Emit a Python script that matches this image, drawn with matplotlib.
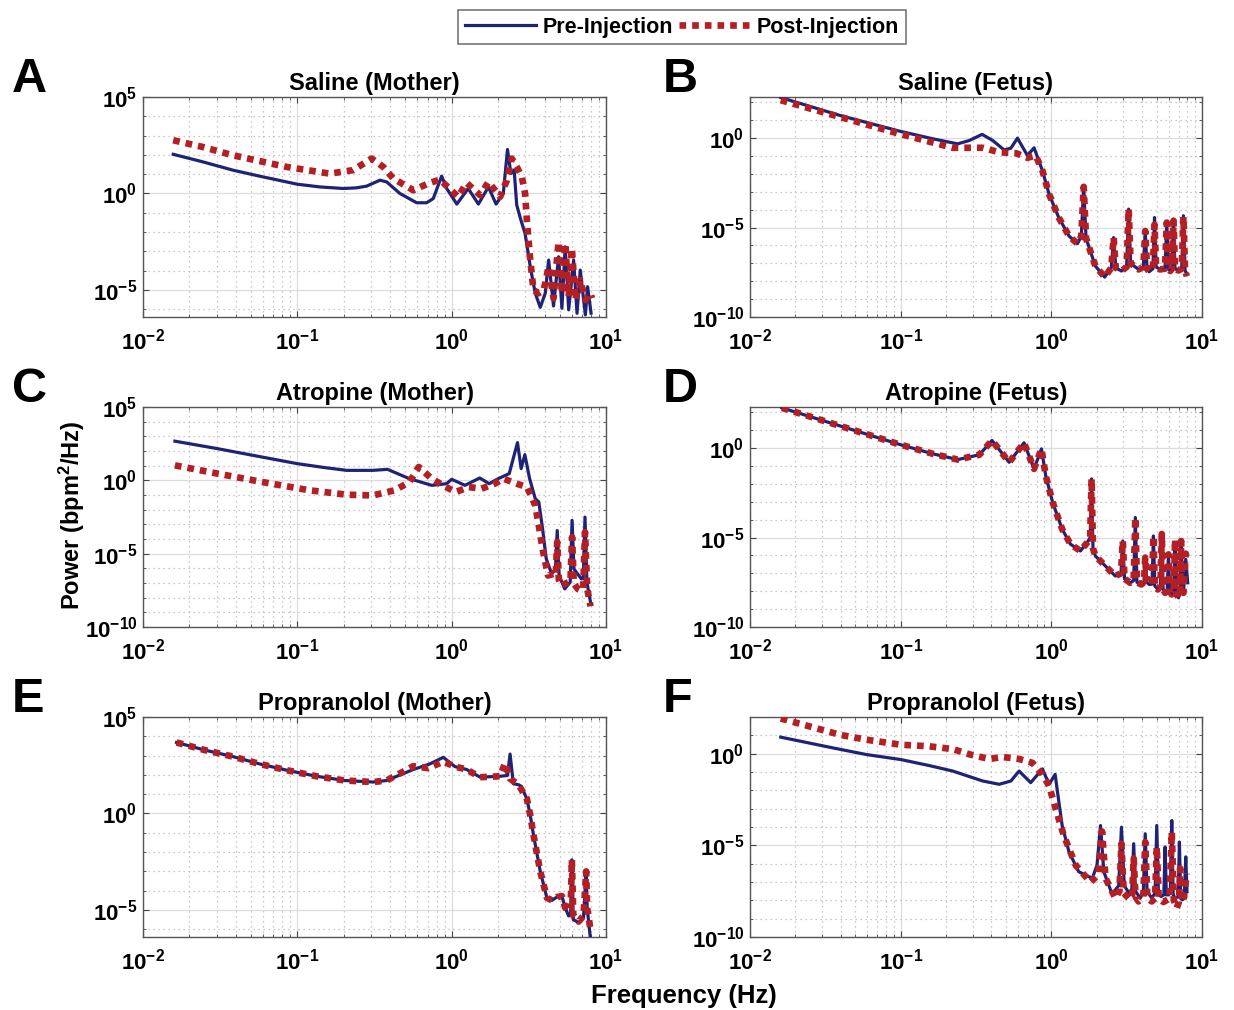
import numpy as np
import matplotlib
matplotlib.use('Agg')
import matplotlib.pyplot as plt
from matplotlib.ticker import FixedLocator, LogLocator, FuncFormatter, NullFormatter

plt.rcParams['font.family'] = ['Liberation Sans', 'DejaVu Sans']
plt.rcParams['font.weight'] = 'bold'
plt.rcParams['mathtext.fontset'] = 'custom'
plt.rcParams['mathtext.rm'] = 'Liberation Sans:bold'
plt.rcParams['mathtext.it'] = 'Liberation Sans:bold'
plt.rcParams['mathtext.bf'] = 'Liberation Sans:bold'
plt.rcParams['mathtext.sf'] = 'Liberation Sans:bold'

## Spectra: frequency (Hz) and log10 power (bpm^2/Hz)
# Saline, mother
sal_m_pre_f = [0.0157, 0.0244, 0.0382, 0.0568, 0.100, 0.140, 0.198, 0.240, 0.281, 0.343,
               0.379, 0.462, 0.593, 0.689, 0.760, 0.861, 0.929, 1.08, 1.28, 1.49,
               1.73, 1.94, 2.16, 2.30, 2.42, 2.54, 2.64, 2.81, 2.99, 3.23,
               3.48, 3.75, 4.04, 4.25, 4.57, 4.93, 5.18, 5.44, 5.73, 6.17,
               6.49, 6.81, 7.35, 7.60, 8.00]
sal_m_pre_p = [2.03, 1.64, 1.21, 0.90, 0.48, 0.34, 0.26, 0.29, 0.38, 0.69,
               0.60, 0.00, -0.48, -0.48, -0.26, 0.90, 0.26, -0.55, 0.26, -0.55,
               0.34, -0.55, 0.00, 2.28, 1.03, 1.21, -0.60, -1.38, -2.07, -3.79,
               -5.17, -5.90, -5.17, -3.45, -5.83, -3.28, -5.95, -2.76, -6.03, -3.45,
               -6.21, -3.97, -6.29, -4.83, -6.20]
sal_m_post_f = [0.0157, 0.0244, 0.0382, 0.0849, 0.162, 0.230, 0.303, 0.360, 0.418, 0.564,
                0.705, 0.840, 1.10, 1.25, 1.53, 1.73, 2.06, 2.28, 2.45, 2.64,
                2.85, 2.99, 3.07, 3.23, 3.39, 3.66, 3.95, 4.25, 4.57, 4.93,
                5.18, 5.44, 5.73, 6.01, 6.33, 6.81, 7.35, 7.91, 8.11]
sal_m_post_p = [2.76, 2.41, 1.98, 1.38, 1.03, 1.21, 1.81, 1.38, 0.78, 0.17,
                0.52, 0.72, -0.17, 0.55, -0.09, 0.60, -0.17, 0.69, 1.81, 1.38,
                0.86, 0.00, -1.38, -3.45, -5.00, -5.17, -5.00, -3.79, -5.43, -2.50,
                -5.17, -2.59, -5.34, -2.84, -5.52, -4.48, -5.52, -5.17, -5.43]

# Saline, fetus
sal_f_pre_f = [0.0160, 0.0395, 0.0984, 0.164, 0.239, 0.286, 0.347, 0.408, 0.486, 0.539,
               0.596, 0.694, 0.768, 0.873, 0.966, 1.12, 1.31, 1.49, 1.58, 1.64,
               1.70, 1.96, 2.26, 2.50, 2.59, 2.68, 2.92, 3.16, 3.26, 3.36,
               3.79, 4.08, 4.20, 4.32, 4.46, 4.72, 4.84, 4.96, 5.27, 5.68,
               5.84, 5.98, 6.15, 6.32, 6.47, 6.62, 6.98, 7.33, 7.53, 7.72, 7.93]
sal_f_pre_p = [2.27, 1.27, 0.39, -0.04, -0.32, -0.13, 0.21, -0.13, -0.66, -0.56,
               0.00, -0.97, -0.54, -1.82, -3.13, -4.44, -5.47, -5.90, -5.50, -2.72,
               -5.60, -7.15, -7.77, -7.25, -5.56, -7.25, -7.43, -7.20, -3.97, -7.00,
               -7.34, -7.20, -5.19, -7.30, -7.47, -7.30, -4.44, -7.20, -7.34, -7.30,
               -4.72, -7.30, -7.43, -7.30, -4.53, -7.30, -7.40, -7.30, -4.34, -7.40, -7.62]
sal_f_post_f = [0.0160, 0.0984, 0.222, 0.350, 0.451, 0.582, 0.694, 0.787, 0.873, 0.966,
                1.12, 1.31, 1.49, 1.58, 1.64, 1.70, 1.96, 2.26, 2.50, 2.59,
                2.68, 2.92, 3.16, 3.26, 3.36, 3.79, 4.08, 4.20, 4.32, 4.46,
                4.72, 4.84, 4.96, 5.27, 5.68, 5.84, 5.98, 6.15, 6.32, 6.47,
                6.62, 6.98, 7.33, 7.53, 7.72, 7.93]
sal_f_post_p = [2.12, 0.24, -0.54, -0.54, -0.79, -0.84, -1.10, -0.97, -1.82, -3.13,
                -4.44, -5.47, -5.90, -5.50, -2.72, -5.60, -7.15, -7.77, -7.25, -5.56,
                -7.25, -7.43, -7.20, -3.97, -7.00, -7.34, -7.20, -5.19, -7.30, -7.47,
                -7.30, -4.84, -7.20, -7.34, -7.30, -4.72, -7.30, -7.43, -7.30, -4.62,
                -7.30, -7.40, -7.30, -4.40, -7.40, -7.72]

# Atropine, mother
atr_m_pre_f = [0.0161, 0.0304, 0.0589, 0.0996, 0.150, 0.209, 0.308, 0.384, 0.533, 0.743,
               0.927, 1.00, 1.22, 1.52, 1.75, 2.00, 2.36, 2.67, 2.82, 2.98,
               3.20, 3.48, 3.67, 3.88, 4.10, 4.45, 4.70, 4.83, 4.97, 5.40,
               5.86, 6.03, 6.20, 6.92, 7.12, 7.31, 7.52, 7.94]
atr_m_pre_p = [2.67, 2.16, 1.59, 1.14, 0.87, 0.68, 0.68, 0.75, 0.11, -0.34,
               -0.23, 0.07, -0.34, 0.16, -0.23, 0.11, 0.46, 2.57, 0.80, 1.75,
               0.11, -1.25, -1.48, -3.30, -5.35, -6.38, -6.04, -3.42, -6.49, -7.40,
               -6.95, -2.73, -6.04, -6.72, -6.70, -2.51, -6.95, -8.31]
atr_m_post_f = [0.0161, 0.0304, 0.0589, 0.120, 0.209, 0.308, 0.428, 0.533, 0.612, 0.743,
                0.877, 1.06, 1.29, 1.56, 1.90, 2.17, 2.64, 3.08, 3.48, 3.67,
                3.88, 4.21, 4.57, 4.72, 4.83, 4.95, 5.11, 5.70, 5.88, 6.03,
                6.18, 6.55, 6.92, 7.12, 7.31, 7.56, 7.94]
atr_m_post_p = [1.02, 0.46, -0.11, -0.68, -0.98, -1.03, -0.68, -0.11, 0.91, 0.11,
                -0.34, -0.80, -0.46, -0.57, -0.23, 0.11, -0.23, -0.46, -1.71, -3.08,
                -4.67, -6.49, -6.38, -6.50, -4.21, -6.80, -7.18, -6.95, -6.90, -3.87,
                -7.00, -7.40, -7.52, -7.40, -3.53, -7.40, -8.59]

# Atropine, fetus
atr_f_pre_f = [0.0163, 0.100, 0.164, 0.239, 0.333, 0.404, 0.525, 0.659, 0.768, 0.860,
               0.918, 1.02, 1.18, 1.34, 1.56, 1.73, 1.81, 1.85, 1.89, 1.96,
               2.17, 2.66, 2.90, 2.98, 3.06, 3.34, 3.52, 3.61, 3.70, 3.95,
               4.12, 4.20, 4.30, 4.46, 4.66, 4.76, 4.86, 5.09, 5.30, 5.41,
               5.52, 5.69, 5.88, 5.99, 6.10, 6.30, 6.50, 6.63, 6.76, 6.98,
               7.15, 7.27, 7.40, 7.53, 7.80, 8.04]
atr_f_pre_p = [2.25, 0.19, -0.32, -0.64, -0.37, 0.43, -0.79, 0.30, -1.16, -0.04,
               -1.54, -3.03, -4.53, -5.37, -5.75, -5.28, -5.00, -1.72, -5.60, -6.03,
               -6.40, -7.15, -7.00, -5.19, -7.30, -7.53, -7.40, -3.88, -7.50, -7.62,
               -7.50, -6.12, -7.50, -7.62, -7.60, -4.91, -7.70, -7.90, -7.70, -4.72,
               -7.90, -8.09, -7.90, -5.94, -8.00, -8.18, -8.00, -5.28, -8.10, -8.37,
               -8.10, -5.19, -8.00, -8.09, -6.22, -7.53]
atr_f_post_f = list(atr_f_pre_f)
atr_f_post_p = [2.25, 0.19, -0.32, -0.64, -0.37, 0.43, -0.79, 0.30, -1.16, -0.04,
                -1.54, -3.03, -4.53, -5.37, -5.75, -5.28, -5.00, -1.72, -5.60, -6.03,
                -6.40, -7.15, -7.00, -5.19, -7.30, -7.53, -7.40, -3.88, -7.50, -7.62,
                -7.50, -6.12, -7.50, -7.62, -7.60, -4.91, -7.70, -7.90, -7.70, -4.80,
                -7.90, -8.09, -7.90, -5.94, -8.00, -8.18, -8.00, -5.10, -8.10, -8.37,
                -8.10, -5.19, -8.00, -8.09, -5.90, -6.40]

# Propranolol, mother
pro_m_pre_f = [0.0165, 0.0250, 0.0382, 0.0568, 0.0869, 0.133, 0.203, 0.310, 0.379, 0.564,
               0.723, 0.883, 1.05, 1.25, 1.53, 2.06, 2.30, 2.39, 2.51, 2.71,
               2.81, 3.07, 3.23, 3.39, 3.75, 4.14, 4.46, 4.81, 5.18, 5.44,
               5.73, 5.90, 6.01, 6.14, 6.64, 7.15, 7.44, 7.55, 7.91]
pro_m_pre_p = [3.68, 3.29, 2.95, 2.57, 2.23, 1.93, 1.71, 1.63, 1.71, 2.28,
               2.57, 2.91, 2.43, 2.28, 1.88, 1.93, 1.97, 3.08, 1.54, 1.49,
               1.42, 0.77, -0.09, -1.11, -3.00, -4.37, -4.50, -4.33, -4.28, -4.88,
               -5.31, -5.20, -2.40, -5.50, -5.65, -5.40, -3.03, -4.88, -6.42]
pro_m_post_f = [0.0165, 0.0250, 0.0382, 0.0568, 0.0869, 0.133, 0.203, 0.310, 0.379, 0.564,
                0.705, 0.883, 1.05, 1.25, 1.53, 2.06, 2.22, 2.39, 2.71, 3.07,
                3.23, 3.39, 3.75, 4.14, 4.46, 4.81, 5.18, 5.44, 5.73, 5.90,
                6.01, 6.14, 6.64, 7.15, 7.44, 7.55, 7.91]
pro_m_post_p = [3.68, 3.29, 2.95, 2.57, 2.23, 1.93, 1.71, 1.63, 1.71, 2.45,
                2.35, 2.69, 2.43, 2.28, 1.88, 1.93, 2.62, 1.80, 1.49, 0.77,
                -0.09, -1.11, -3.00, -4.37, -4.50, -4.33, -4.28, -4.88, -5.10, -5.00,
                -2.40, -5.30, -5.60, -5.30, -3.00, -4.90, -5.95]

# Propranolol, fetus
pro_f_pre_f = [0.0160, 0.0357, 0.0594, 0.100, 0.155, 0.222, 0.350, 0.451, 0.539, 0.611,
               0.730, 0.873, 0.966, 1.06, 1.10, 1.18, 1.31, 1.52, 1.87, 2.01,
               2.12, 2.23, 2.53, 2.80, 2.92, 3.05, 3.28, 3.42, 3.52, 3.62,
               3.89, 4.08, 4.20, 4.32, 4.64, 4.88, 5.01, 5.14, 5.36, 5.58,
               5.69, 5.80, 5.99, 6.16, 6.30, 6.44, 6.63, 6.95, 7.08, 7.22,
               7.41, 7.62, 7.80, 7.95]
pro_f_pre_p = [0.90, 0.31, -0.05, -0.32, -0.65, -0.95, -1.49, -1.67, -1.49, -0.95,
               -1.58, -0.83, -1.67, -1.13, -2.12, -3.92, -5.36, -6.44, -6.80, -6.08,
               -3.92, -6.44, -7.66, -7.20, -4.01, -7.20, -7.61, -7.40, -4.91, -7.50,
               -7.88, -7.50, -4.37, -7.50, -7.88, -7.60, -3.92, -7.70, -7.79, -7.70,
               -5.09, -7.70, -7.70, -7.60, -3.65, -7.70, -7.88, -7.80, -4.82, -7.90,
               -7.97, -7.90, -5.63, -7.52]
pro_f_post_f = [0.0160, 0.0395, 0.0594, 0.100, 0.155, 0.222, 0.290, 0.387, 0.474, 0.611,
                0.748, 0.873, 0.966, 1.07, 1.21, 1.45, 1.82, 2.05, 2.17, 2.29,
                2.66, 2.83, 2.92, 3.02, 3.34, 3.44, 3.52, 3.62, 3.79, 4.08,
                4.20, 4.34, 4.64, 4.88, 5.01, 5.16, 5.55, 6.10, 6.30, 6.50,
                6.80, 7.02, 7.16, 7.32, 7.53, 7.93]
pro_f_post_p = [1.92, 1.03, 0.76, 0.49, 0.40, 0.25, -0.05, -0.29, -0.18, -0.29,
                -0.50, -1.13, -1.76, -3.02, -4.46, -6.08, -7.01, -6.60, -4.24, -6.80,
                -7.88, -7.50, -4.91, -7.60, -7.97, -7.70, -5.72, -7.80, -8.06, -7.80,
                -4.82, -7.90, -8.06, -7.90, -5.09, -7.90, -8.09, -7.90, -4.28, -8.00,
                -8.42, -8.10, -6.26, -8.00, -8.06, -6.53]

titles = ['Saline (Mother)', 'Saline (Fetus)', 'Atropine (Mother)',
          'Atropine (Fetus)', 'Propranolol (Mother)', 'Propranolol (Fetus)']
letters = ['A', 'B', 'C', 'D', 'E', 'F']

pre_color = '#1f2375'
post_color = '#b31f24'

# panel layout in pixels: (left, top, width, height), ylim exponents, major y ticks
W, H = 1234, 1010
panels = [
    (sal_m_pre_f, sal_m_pre_p, sal_m_post_f, sal_m_post_p, (143, 97, 463, 220), (-6.4, 5), [-5, 0, 5]),
    (sal_f_pre_f, sal_f_pre_p, sal_f_post_f, sal_f_post_p, (750, 97, 452, 220), (-10, 2.3), [-10, -5, 0]),
    (atr_m_pre_f, atr_m_pre_p, atr_m_post_f, atr_m_post_p, (143, 407, 463, 220), (-10, 5), [-10, -5, 0, 5]),
    (atr_f_pre_f, atr_f_pre_p, atr_f_post_f, atr_f_post_p, (750, 407, 452, 220), (-10, 2.3), [-10, -5, 0]),
    (pro_m_pre_f, pro_m_pre_p, pro_m_post_f, pro_m_post_p, (143, 717, 463, 220), (-6.4, 5), [-5, 0, 5]),
    (pro_f_pre_f, pro_f_pre_p, pro_f_post_f, pro_f_post_p, (750, 717, 452, 220), (-10, 2.0), [-10, -5, 0]),
]

sci = FuncFormatter(lambda v, pos: r'$10^{%d}$' % int(round(np.log10(v))))

fig = plt.figure(figsize=(W / 100, H / 100), dpi=100)

for i, (f1, p1, f2, p2, box, ylim, yt) in enumerate(panels):
    l, t, w, h = box
    ax = fig.add_axes([l / W, 1 - (t + h) / H, w / W, h / H])
    ax.set_xscale('log')
    ax.set_yscale('log')
    pre, = ax.plot(f1, 10.0 ** np.array(p1), color=pre_color, lw=2.3, zorder=3)
    post, = ax.plot(f2, 10.0 ** np.array(p2), color=post_color, lw=4.8,
                    ls=(0, (1, 0.9)), dash_capstyle='butt', zorder=4)
    ax.set_xlim(1e-2, 1e1)
    ax.set_ylim(10.0 ** ylim[0], 10.0 ** ylim[1])

    ax.xaxis.set_major_locator(FixedLocator([1e-2, 1e-1, 1e0, 1e1]))
    ax.xaxis.set_minor_locator(LogLocator(base=10, subs=np.arange(2, 10), numticks=50))
    ax.yaxis.set_major_locator(FixedLocator([10.0 ** k for k in yt]))
    ax.yaxis.set_minor_locator(LogLocator(base=10, subs=(1.0,), numticks=50))
    ax.xaxis.set_major_formatter(sci)
    ax.yaxis.set_major_formatter(sci)
    ax.xaxis.set_minor_formatter(NullFormatter())
    ax.yaxis.set_minor_formatter(NullFormatter())

    ax.grid(True, which='major', color='#dcdcdc', lw=0.9)
    ax.grid(True, which='minor', color='#b8b8b8', lw=0.9, ls=(0, (1, 3)))
    ax.set_axisbelow(True)
    ax.tick_params(which='both', direction='in', top=True, right=True, color='#444444')
    ax.tick_params(which='major', length=4, labelsize=16, pad=4)
    ax.tick_params(which='minor', length=2.5)
    ax.tick_params(axis='x', which='major', pad=8)
    for s in ax.spines.values():
        s.set_color('#555555')
        s.set_linewidth(1.0)

    ax.set_title(titles[i], fontsize=17, fontweight='bold', pad=5)
    fig.text((12 if l < 400 else 663) / W, 1 - (t - 5) / H, letters[i],
             fontsize=35, fontweight='bold', va='baseline', ha='left')

fig.text(72 / W, 1 - 515 / H, r'Power (bpm$^2$/Hz)', rotation=90,
         fontsize=17, fontweight='bold', ha='center', va='center')
fig.text(684 / W, 1 - 996 / H, 'Frequency (Hz)', fontsize=18.5,
         fontweight='bold', ha='center', va='center')

leg = fig.legend([pre, post], ['Pre-Injection', 'Post-Injection'], ncol=2,
                 loc='center', bbox_to_anchor=(682 / W, 1 - 27 / H),
                 fontsize=15.5, handlelength=3.3, handletextpad=0.3,
                 columnspacing=0.3, borderpad=0.3, fancybox=False, frameon=True)
leg.get_frame().set_edgecolor('#555555')
leg.get_frame().set_linewidth(1.2)

fig.savefig('out.png', dpi=100)
